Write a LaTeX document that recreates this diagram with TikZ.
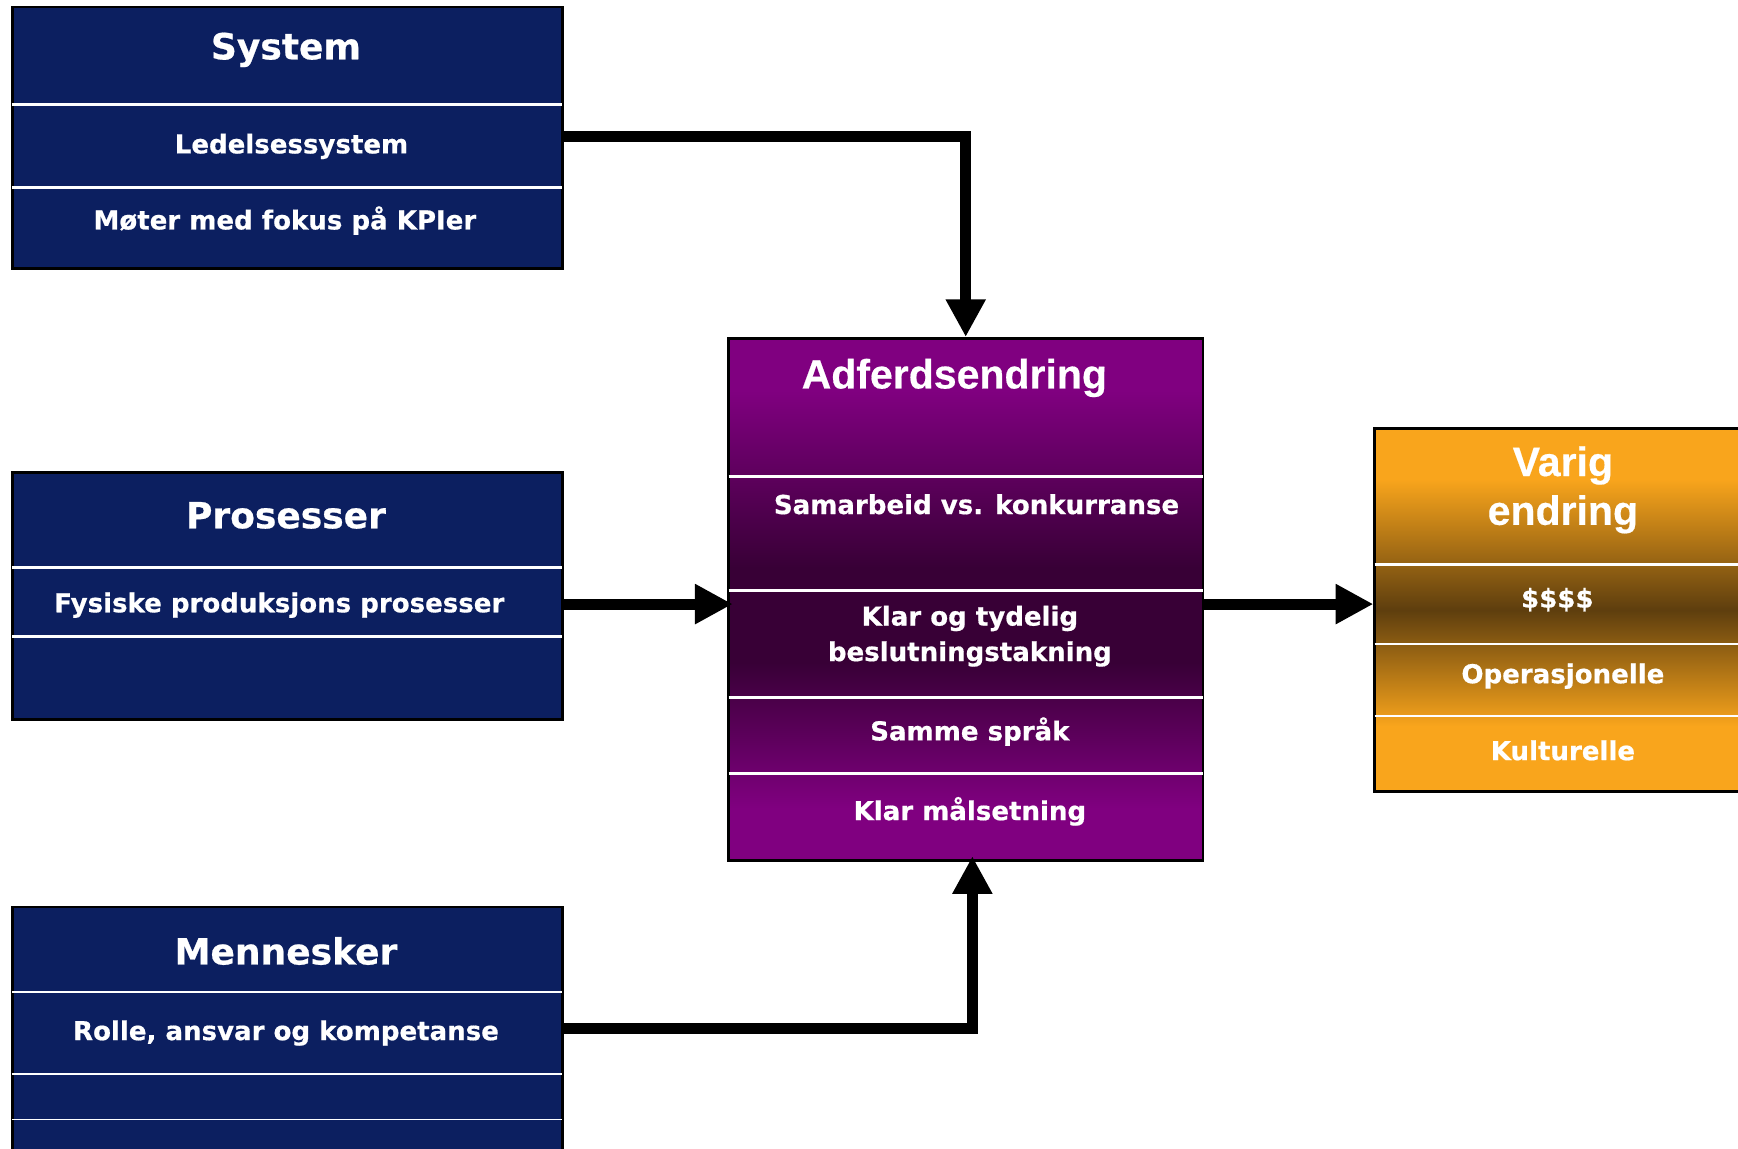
\documentclass[tikz,border=0pt]{standalone}
\usepackage{fontspec}
\setmainfont{DejaVu Sans}[BoldFeatures={FakeBold=0.6}]
\newfontfamily\arialfont{Liberation Sans}[BoldFeatures={FakeBold=0.4}]
\usetikzlibrary{arrows.meta}

\definecolor{navy}{RGB}{12,31,96}
\definecolor{purp}{RGB}{128,0,128}
\definecolor{purpdark}{RGB}{56,0,54}
\definecolor{orng}{RGB}{249,165,28}
\definecolor{brwn}{RGB}{94,62,14}

\pgfdeclareverticalshading{purpshade}{100bp}{color(0bp)=(purp); color(30bp)=(purp); color(44bp)=(purpdark); color(53bp)=(purpdark); color(70bp)=(purp); color(100bp)=(purp)}
\pgfdeclareverticalshading{orngshade}{100bp}{color(0bp)=(orng); color(34bp)=(orng); color(50bp)=(brwn); color(68bp)=(orng); color(100bp)=(orng)}

\tikzset{
  boxbase/.style={draw=black, line width=2.5pt, anchor=north west, inner sep=0pt},
  navybox/.style={boxbase, fill=navy},
  purpbox/.style={boxbase, shading=purpshade},
  orngbox/.style={boxbase, shading=orngshade},
  divider/.style={white, line width=2.5pt},
  ttl/.style={text=white, font=\bfseries\fontsize{32.5}{36}\selectfont},
  txt/.style={text=white, font=\bfseries\fontsize{23.5}{32}\selectfont, align=center},
  bigttl/.style={text=white, font=\arialfont\bfseries\fontsize{37}{44}\selectfont, align=center},
  conn/.style={line width=10pt, -{Triangle[width=34pt,length=34pt]}},
}

\begin{document}
\begin{tikzpicture}[x=1pt,y=1pt]
\useasboundingbox (0,0) rectangle (1568,1036);
\fill[white] (0,0) rectangle (1568,1036);
\clip (0,0) rectangle (1568,1036);

% boxes
\node[navybox, minimum width=496pt, minimum height=236pt] (sys) at (10,1031) {};
\node[navybox, minimum width=496pt, minimum height=223pt] (pro) at (10,611) {};
\node[navybox, minimum width=496pt, minimum height=260pt] (men) at (10,219) {};
\node[purpbox, minimum width=428pt, minimum height=471pt] (adf) at (656,732) {};
\node[orngbox, minimum width=360pt, minimum height=328pt] (var) at (1239,651) {};

% dividers
\foreach \b/\y in {sys/942, sys/867, pro/524, pro/462, men/141, men/67, adf/606, adf/503, adf/407, adf/338, var/527, var/455, var/390}{
  \draw[divider] ([xshift=1.25pt]\b.west |- 0,\y) -- ([xshift=-1.25pt]\b.east |- 0,\y);
}
\draw[white, line width=1.2pt] ([xshift=1.25pt]men.west |- 0,26) -- ([xshift=-1.25pt]men.east |- 0,26);

% texts
\node[ttl] (systitle) at (258,991) {System};
\node[txt] (sys1) at (263,904) {Ledelsessystem};
\node[txt] (sys2) at (257,837) {Møter med fokus på KPIer};

\node[ttl] (protitle) at (258,571) {Prosesser};
\node[txt] (pro1) at (252,490) {Fysiske produksjons prosesser};

\node[ttl] (mentitle) at (258,178) {Mennesker};
\node[txt] (men1) at (258,104) {Rolle, ansvar og kompetanse};

\node[bigttl] (adftitle) at (861,695) {Adferdsendring};
\node[txt] (adf1) at (881,581) {Samarbeid vs. konkurranse};
\node[txt] (adf2) at (875,462) {Klar og tydelig\\beslutningstakning};
\node[txt] (adf3) at (875,376) {Samme språk};
\node[txt] (adf4) at (875,304) {Klar målsetning};

\node[bigttl] (vartitle) at (1410,594) {Varig\\endring};
\node[txt] (var1) at (1405,495) {\$\$\$\$};
\node[txt] (var2) at (1410,426) {Operasjonelle};
\node[txt] (var3) at (1410,359) {Kulturelle};

% connectors
\coordinate (adfin) at ([xshift=6pt,yshift=5pt]adf.south);
\coordinate (adfleft) at ([xshift=5pt]adf.west |- 0,491);
\draw[conn] (sys.east |- 0,913) -| (adf.north);
\draw[conn] (pro.east |- 0,491) -- (adfleft);
\draw[conn] (adf.east |- 0,491) -- (var.west |- 0,491);
\draw[conn] (men.east |- 0,108) -| (adfin);
\end{tikzpicture}
\end{document}
